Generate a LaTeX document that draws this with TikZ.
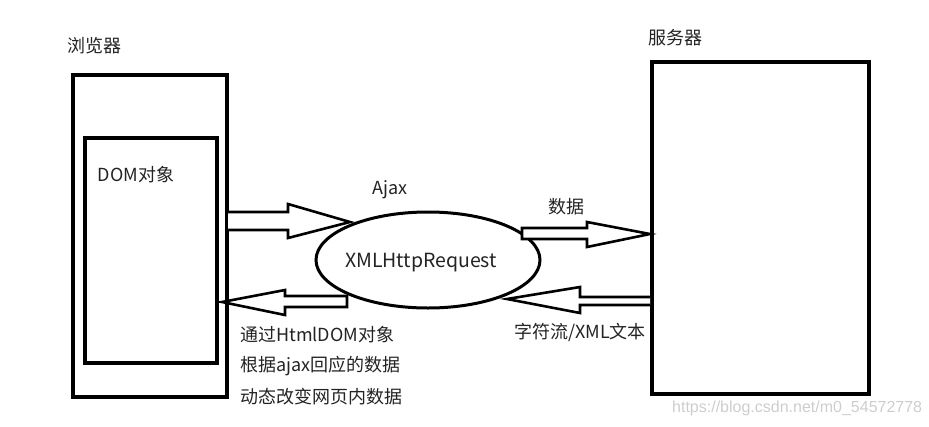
\documentclass[tikz,border=0pt]{standalone}
\usepackage{fontspec}
\newfontfamily\cjk{Noto Sans CJK SC}
\newfontfamily\wmfont{Liberation Sans}
\usetikzlibrary{shapes.geometric}
\definecolor{txt}{RGB}{35,35,35}
\definecolor{wm}{RGB}{205,205,205}
\tikzset{
  box/.style={draw=black, line width=4pt, rectangle, inner sep=0pt},
  oval/.style={draw=black, line width=3pt, ellipse, inner sep=0pt},
  blockarrow/.style={draw=black, line width=2.6pt, line join=miter, fill=white},
  lbl/.style={font=\cjk\fontsize{18}{21}\selectfont, text=txt, inner sep=0pt},
  wmark/.style={font=\wmfont\fontsize{16}{19}\selectfont, text=wm, inner sep=0pt}
}
\begin{document}
\begin{tikzpicture}[x=1pt,y=-1pt]
\useasboundingbox (0,0) rectangle (929,426);
% boxes
\node[box, minimum width=154pt, minimum height=322pt] (browser) at (150,236) {};
\node[box, minimum width=132pt, minimum height=225pt] (dom) at (151,250.5) {};
\node[box, minimum width=217pt, minimum height=332pt] (server) at (760.5,228) {};
\node[oval, minimum width=224pt, minimum height=96pt] (xhr) at (428,260) {};
% labels
\node[lbl] (lbrowser) at (94,46) {浏览器};
\node[lbl] (lserver) at (675,38) {服务器};
\node[lbl] (ldom) at (136,175) {DOM对象};
\node[lbl] (lajax) at (390,190) {Ajax};
\node[lbl, font=\cjk\fontsize{19.5}{22}\selectfont] (lxhr) at (421,263) {XMLHttpRequest};
\node[lbl] (ldata) at (566,207) {数据};
\node[lbl] (lstream) at (580,332) {字符流/XML文本};
\node[lbl, anchor=west] (l1) at (240,335) {通过HtmlDOM对象};
\node[lbl, anchor=west] (l2) at (240,366) {根据ajax回应的数据};
\node[lbl, anchor=west] (l3) at (240,397) {动态改变网页内数据};
\node[wmark, anchor=west] (wmk) at (672,408) {https://blog.csdn.net/m0\_54572778};
% block arrows
\draw[blockarrow] (228,212) -- (288,212) -- (288,204) -- (350,222) -- (288,238) -- (288,230) -- (228,230);
\draw[blockarrow] (347,296) -- (285,296) -- (285,290) -- (222,302) -- (285,315) -- (285,307) -- (347,307) -- cycle;
\draw[blockarrow] (522,228) -- (587,228) -- (587,222) -- (650,234) -- (587,247) -- (587,239) -- (522,239) -- cycle;
\draw[blockarrow] (650,297) -- (580,297) -- (580,287) -- (507,299) -- (580,313) -- (580,305) -- (650,305);
\end{tikzpicture}
\end{document}
